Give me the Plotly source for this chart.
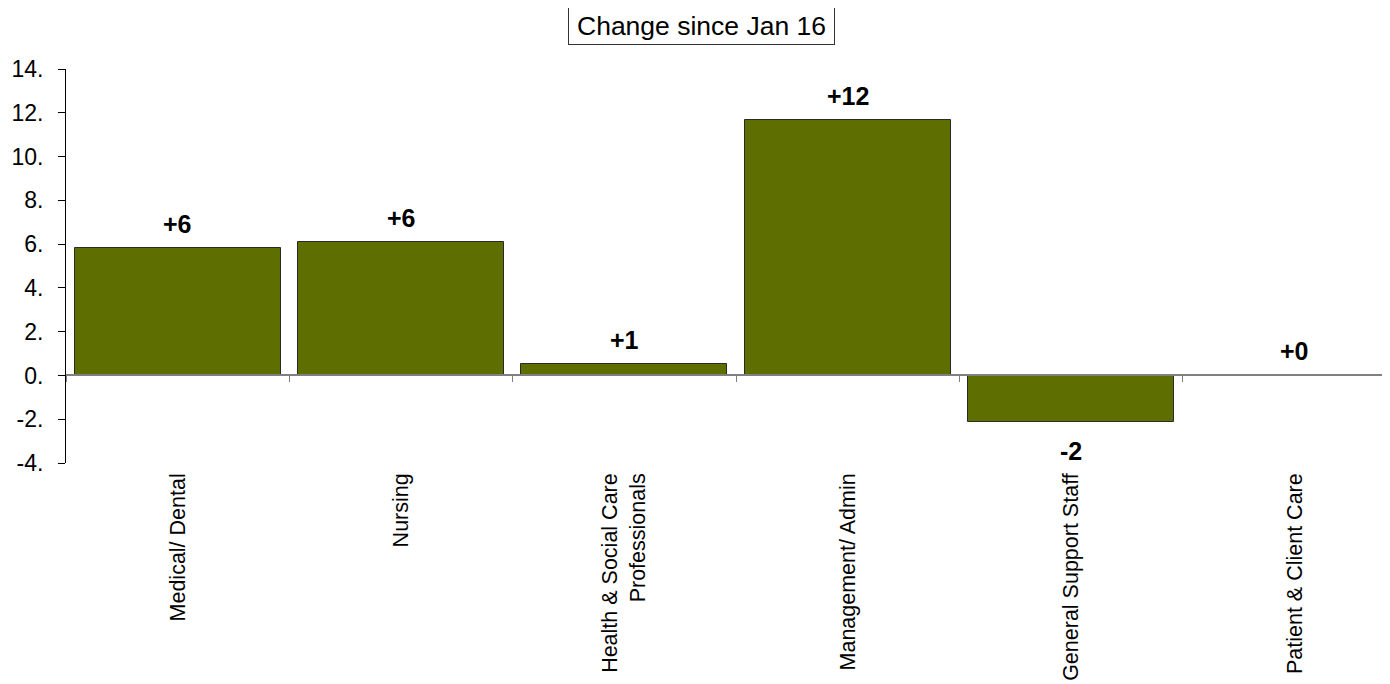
import plotly.graph_objects as go

categories = ["Medical/ Dental", "Nursing", "Health & Social Care<br>Professionals",
              "Management/ Admin", "General Support Staff", "Patient & Client Care"]
values = [5.83, 6.1, 0.52, 11.65, -2.12, 0.0]
labels = ["+6", "+6", "+1", "+12", "-2", "+0"]
y_ticks = [-4, -2, 0, 2, 4, 6, 8, 10, 12, 14]
y_ticktext = ["-4.", "-2.", "0.", "2.", "4.", "6.", "8.", "10.", "12.", "14."]
title_text = "Change since Jan 16"

FONT = "Liberation Sans, Arial, sans-serif"
xrange = [-0.5, 5.427]

fig = go.Figure()
fig.add_trace(go.Bar(
    x=categories, y=values, width=0.922,
    marker=dict(color="#5E6E00", line=dict(color="#2a2a2a", width=1)),
    hoverinfo="skip", showlegend=False,
))
# invisible trace carrying the zero-line axis with boundary ticks
fig.add_trace(go.Scatter(
    x=categories, y=[0] * len(categories), xaxis="x2", mode="markers",
    marker=dict(opacity=0), hoverinfo="skip", showlegend=False,
))

for c, v, t in zip(categories, values, labels):
    fig.add_annotation(
        x=c, y=v, text=f"<b>{t}</b>", showarrow=False,
        yshift=24 if v >= 0 else -29, yanchor="middle",
        font=dict(family=FONT, size=25, color="black"),
    )

fig.add_annotation(
    xref="paper", yref="paper", x=0.4803, y=1, yanchor="middle", yshift=43,
    text=title_text, showarrow=False, width=263, height=34,
    font=dict(family=FONT, size=26.5, color="black"),
    bordercolor="#333333", borderwidth=1, borderpad=1, bgcolor="white",
)

fig.update_layout(
    width=1382, height=676,
    margin=dict(l=58, r=0, t=61, b=221),
    plot_bgcolor="white", paper_bgcolor="white",
    font=dict(family=FONT, color="black"),
    bargap=0,
    xaxis=dict(
        type="category", range=xrange, showline=False, showgrid=False,
        zeroline=False, ticks="", tickangle=-90, ticklabelstandoff=5,
        tickfont=dict(family=FONT, size=21.5, color="black"),
    ),
    xaxis2=dict(
        type="category", range=xrange, overlaying="x", anchor="free",
        position=4 / 18, showline=True, linecolor="#808080", linewidth=1.5,
        ticks="outside", tickson="boundaries", ticklen=6, tickcolor="#808080",
        showticklabels=False, showgrid=False, zeroline=False,
    ),
    yaxis=dict(
        range=[-4, 14], tickvals=y_ticks, ticktext=y_ticktext,
        showline=True, linecolor="black", linewidth=1,
        ticks="outside", ticklen=7, tickcolor="black", ticklabelstandoff=10,
        showgrid=False, zeroline=False,
        tickfont=dict(family=FONT, size=23, color="black"),
    ),
)

fig.write_html("out.html")
